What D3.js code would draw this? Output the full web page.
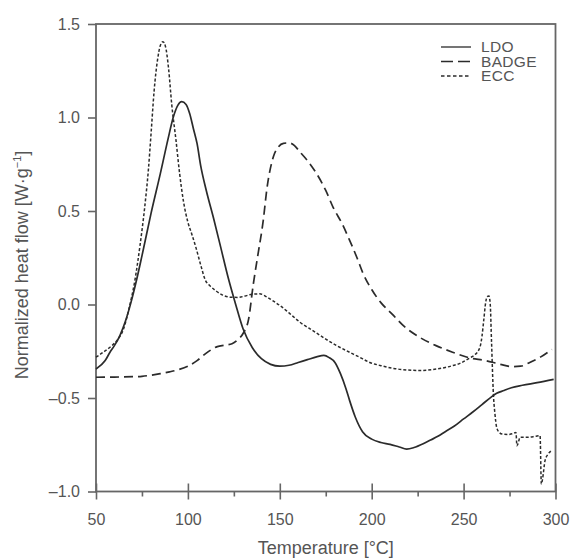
<!DOCTYPE html>
<html>
<head>
<meta charset="utf-8">
<script src="https://cdn.jsdelivr.net/npm/d3@7/dist/d3.min.js"></script>
<style>
    html, body { margin: 0; padding: 0; background: #fff; }
    svg text { font-family: "Liberation Sans", Arial, Helvetica, sans-serif; fill: #555; }
</style>
</head>
<body>
<svg id="chart" width="574" height="559"></svg>
<script>
// temperatures [°C] and normalized heat flow [W/g]
var ldoT = [50, 55, 57.6, 60, 63, 66, 69, 72, 75, 80, 85, 89.3, 92, 94.5, 96.6, 99, 101, 103, 105, 107, 110,
    114, 118, 122, 126, 130, 135, 140, 145, 150, 155, 160, 165, 170, 174, 177, 180, 183, 186, 188, 191, 195,
    200, 205, 210, 215, 219, 223, 228, 232, 236, 240, 245, 250, 255, 260, 265, 268, 272, 276, 282, 290, 299];
var ldoY = [-0.345, -0.3, -0.255, -0.22, -0.166, -0.09, 0.01, 0.128, 0.26, 0.49, 0.7, 0.89, 1.0, 1.065, 1.085,
    1.07, 1.02, 0.94, 0.86, 0.74, 0.61, 0.46, 0.3, 0.14, 0.0, -0.13, -0.23, -0.29, -0.32, -0.33, -0.325,
    -0.31, -0.295, -0.28, -0.272, -0.285, -0.31, -0.37, -0.45, -0.514, -0.6, -0.68, -0.72, -0.738, -0.748,
    -0.762, -0.773, -0.765, -0.745, -0.725, -0.705, -0.68, -0.65, -0.612, -0.575, -0.535, -0.495, -0.475,
    -0.46, -0.445, -0.432, -0.418, -0.4];

var badgeT = [50, 60, 70, 75, 80, 85, 90, 95, 100, 105, 110, 113, 116, 120, 124, 127, 130, 133, 135.6, 138,
    141, 143, 146.5, 149, 152, 155, 158, 161, 165, 170, 175, 179, 184, 188, 192, 195.4, 200, 205, 211, 218,
    226, 235, 244, 253, 262, 270, 276, 281, 286, 292, 298];
var badgeY = [-0.389, -0.388, -0.386, -0.384, -0.378, -0.37, -0.36, -0.348, -0.33, -0.3, -0.26, -0.24, -0.225,
    -0.218, -0.21, -0.19, -0.155, -0.08, 0.11, 0.26, 0.45, 0.62, 0.79, 0.84, 0.862, 0.864, 0.85, 0.815, 0.77,
    0.7, 0.61, 0.52, 0.43, 0.343, 0.25, 0.164, 0.08, 0.01, -0.05, -0.12, -0.175, -0.22, -0.255, -0.285, -0.3,
    -0.32, -0.332, -0.33, -0.31, -0.28, -0.24];

var eccT = [50, 54, 58, 62, 65, 68, 71, 74, 76.5, 78.5, 80, 81.6, 83.5, 85, 86.4, 87.8, 89.5, 91.2, 93.5, 95.5,
    97.5, 100, 102, 104.5, 107, 109.5, 112, 115, 119, 123, 127, 131, 135, 139, 143, 147, 150, 155, 161, 168,
    175, 181, 186, 193, 199, 205, 212, 219, 226, 233, 240, 244, 248, 253.5, 256, 258.9, 260, 261, 262, 262.8,
    263.8, 264.5, 265.2, 266.2, 267, 268, 269.5, 271, 274, 277, 278.5, 279, 279.6, 280.7, 285, 289, 291.6,
    292.3, 293, 294.3, 296, 298];
var eccY = [-0.282, -0.255, -0.225, -0.185, -0.13, -0.02, 0.12, 0.32, 0.52, 0.72, 0.92, 1.14, 1.31, 1.385, 1.405,
    1.38, 1.26, 1.07, 0.88, 0.7, 0.557, 0.44, 0.38, 0.3, 0.21, 0.13, 0.1, 0.075, 0.05, 0.039, 0.038, 0.045,
    0.055, 0.057, 0.04, 0.015, -0.005, -0.045, -0.095, -0.14, -0.185, -0.22, -0.246, -0.28, -0.31, -0.327,
    -0.342, -0.35, -0.353, -0.348, -0.337, -0.327, -0.315, -0.285, -0.27, -0.228, -0.17, -0.08, 0.01, 0.042,
    0.045, 0.0, -0.2, -0.478, -0.58, -0.657, -0.685, -0.693, -0.695, -0.69, -0.684, -0.755, -0.745, -0.71,
    -0.71, -0.705, -0.701, -0.96, -0.93, -0.835, -0.8, -0.78];

var seriesNames = ['LDO', 'BADGE', 'ECC'];
var xTicks = [50, 100, 150, 200, 250, 300],
    xMinorTicks = [75, 125, 175, 225, 275],
    yTicks = [-1.0, -0.5, 0.0, 0.5, 1.0, 1.5];

var plotLeft = 96,
    plotRight = 555.5,
    plotTop = 24,
    plotBottom = 491.5,
    axisColor = '#666',
    lineColor = '#2b2b2b';

var svg = d3.select('#chart');

var x = d3.scaleLinear().domain([50, 300]).range([plotLeft, plotRight]),
    y = d3.scaleLinear().domain([-1.0, 1.5]).range([plotBottom, plotTop]);

function fmtY(d) {
    var s = Math.abs(d).toFixed(1);
    return d < 0 ? '\u2013' + s : s;
}

function styleAxis(g) {
    g.select('.domain').remove();
    g.selectAll('.tick line').attr('stroke', axisColor).attr('stroke-width', 1.6);
    g.selectAll('.tick text')
        .attr('fill', '#555')
        .style('font-size', '16px')
        .style('font-family', '"Liberation Sans", Arial, sans-serif');
}

// y axis, ticks outward
svg.append('g')
    .attr('transform', 'translate(' + plotLeft + ',0)')
    .call(d3.axisLeft(y).tickValues(yTicks).tickSize(8).tickPadding(8).tickFormat(fmtY))
    .call(styleAxis);

// x axis, major ticks cross the axis line
var xAxisG = svg.append('g')
    .attr('transform', 'translate(0,' + plotBottom + ')')
    .call(d3.axisBottom(x).tickValues(xTicks).tickSize(8).tickPadding(14).tickFormat(d3.format('d')))
    .call(styleAxis);
xAxisG.selectAll('.tick line').attr('y1', -8);

svg.append('g')
    .attr('transform', 'translate(0,' + plotBottom + ')')
    .call(d3.axisBottom(x).tickValues(xMinorTicks).tickSize(5).tickFormat(''))
    .call(styleAxis);

// frame
svg.append('rect')
    .attr('x', plotLeft)
    .attr('y', plotTop)
    .attr('width', plotRight - plotLeft)
    .attr('height', plotBottom - plotTop)
    .attr('fill', 'none')
    .attr('stroke', axisColor)
    .attr('stroke-width', 1.8);

var line = d3.line()
    .x(function(d) { return x(d[0]); })
    .y(function(d) { return y(d[1]); })
    .curve(d3.curveMonotoneX);

var series = [
    {name: seriesNames[0], t: ldoT, v: ldoY, dash: null, width: 1.7},
    {name: seriesNames[1], t: badgeT, v: badgeY, dash: '9,5', width: 1.7},
    {name: seriesNames[2], t: eccT, v: eccY, dash: '3,2', width: 1.5}
];

series.forEach(function(s) {
    var pts = d3.zip(s.t, s.v);
    svg.append('path')
        .datum(pts)
        .attr('d', line)
        .attr('fill', 'none')
        .attr('stroke', lineColor)
        .attr('stroke-width', s.width)
        .attr('stroke-dasharray', s.dash);
});

// legend
var legend = svg.append('g').attr('transform', 'translate(441,47)');
series.forEach(function(s, i) {
    legend.append('line')
        .attr('x1', 0)
        .attr('x2', 30)
        .attr('y1', i * 14.5)
        .attr('y2', i * 14.5)
        .attr('stroke', lineColor)
        .attr('stroke-width', 1.3)
        .attr('stroke-dasharray', s.dash === '9,5' ? '12,5' : (s.dash ? '3.5,2.5' : null));
    legend.append('text')
        .attr('x', 40)
        .attr('y', i * 14.5)
        .attr('dy', '0.35em')
        .style('font-size', '15.5px')
        .style('letter-spacing', '0.3px')
        .text(s.name);
});

// axis titles
svg.append('text')
    .attr('x', (plotLeft + plotRight) / 2)
    .attr('y', 554)
    .attr('text-anchor', 'middle')
    .style('font-size', '18px')
    .text('Temperature [\u00b0C]');

var yTitle = svg.append('text')
    .attr('transform', 'translate(28,265) rotate(-90)')
    .attr('text-anchor', 'middle')
    .style('font-size', '18px');
yTitle.append('tspan').text('Normalized heat flow [W\u00b7g');
yTitle.append('tspan').attr('dy', -7).style('font-size', '11px').text('\u22121');
yTitle.append('tspan').attr('dy', 7).text(']');
</script>
</body>
</html>
